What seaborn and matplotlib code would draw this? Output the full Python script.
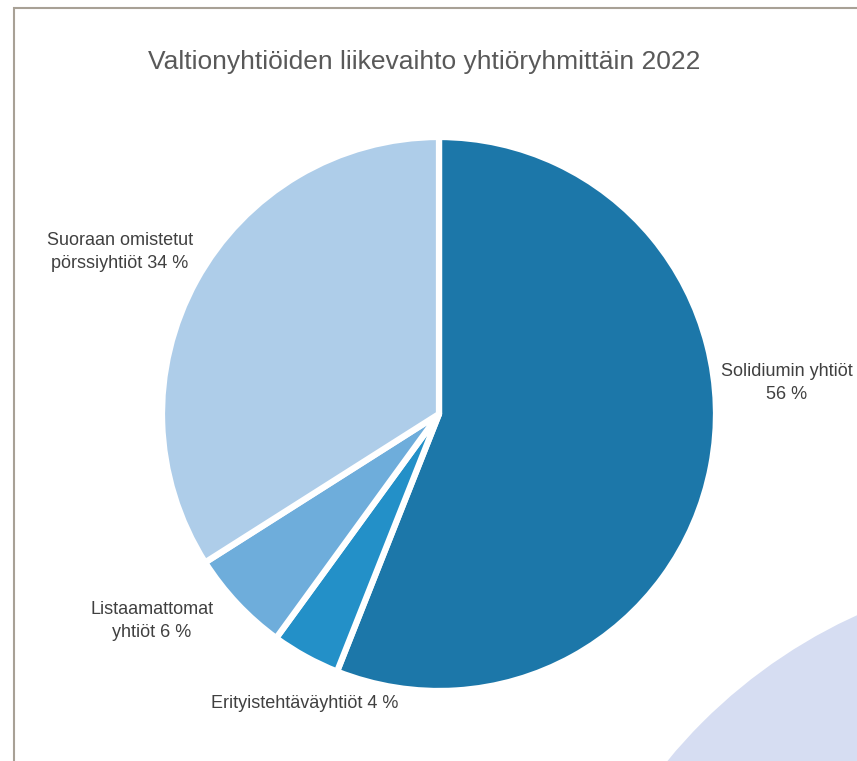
import matplotlib.pyplot as plt
import matplotlib.patches as mpatches
import seaborn as sns

categories = ["Solidiumin yhtiöt", "Erityistehtäväyhtiöt", "Listaamattomat yhtiöt", "Suoraan omistetut pörssiyhtiöt"]
shares = [56, 4, 6, 34]
label_texts = ["Solidiumin yhtiöt\n56 %", "Erityistehtäväyhtiöt 4 %",
               "Listaamattomat\nyhtiöt 6 %", "Suoraan omistetut\npörssiyhtiöt 34 %"]
colors = ["#1c77a9", "#2390c8", "#6eaddb", "#aecde9"]
title = "Valtionyhtiöiden liikevaihto yhtiöryhmittäin 2022"

sns.set_theme(style="white")
plt.rcParams["font.family"] = ["Liberation Sans", "DejaVu Sans"]

W, H = 857, 761
fig = plt.figure(figsize=(W / 100, H / 100), dpi=100)
fig.patch.set_facecolor("white")

# decorative circle in the lower right corner
fig.add_artist(mpatches.Circle((10.75, -3.34), 5.27, transform=fig.dpi_scale_trans,
                               facecolor="#d6ddf2", edgecolor="none", zorder=0))
# frame line on the left and top
fig.add_artist(mpatches.Rectangle((0.14, -1), 10, 7.61 - 0.08 + 1, transform=fig.dpi_scale_trans,
                                  facecolor="none", edgecolor="#a8a196", linewidth=1.5, zorder=1))

cx, cy, r = 439, 414, 277
ax = fig.add_axes([(cx - r) / W, (H - cy - r) / H, 2 * r / W, 2 * r / H])
ax.pie(shares, colors=colors, startangle=90, counterclock=False, radius=1,
       wedgeprops=dict(edgecolor="white", linewidth=4.5, joinstyle="round"))
ax.set_xlim(-1, 1)
ax.set_ylim(-1, 1)
ax.set_aspect("equal")
ax.axis("off")

fig.text(424 / W, 1 - 62 / H, title, ha="center", va="center", fontsize=19, color="#595959")

label_pos = [(787, 383), (305, 703), (152, 621), (120, 252)]
for txt, (x, y) in zip(label_texts, label_pos):
    fig.text(x / W, 1 - y / H, txt, ha="center", va="center", fontsize=13,
             color="#404040", linespacing=1.45)

fig.savefig("out.png", dpi=100, facecolor="white")
